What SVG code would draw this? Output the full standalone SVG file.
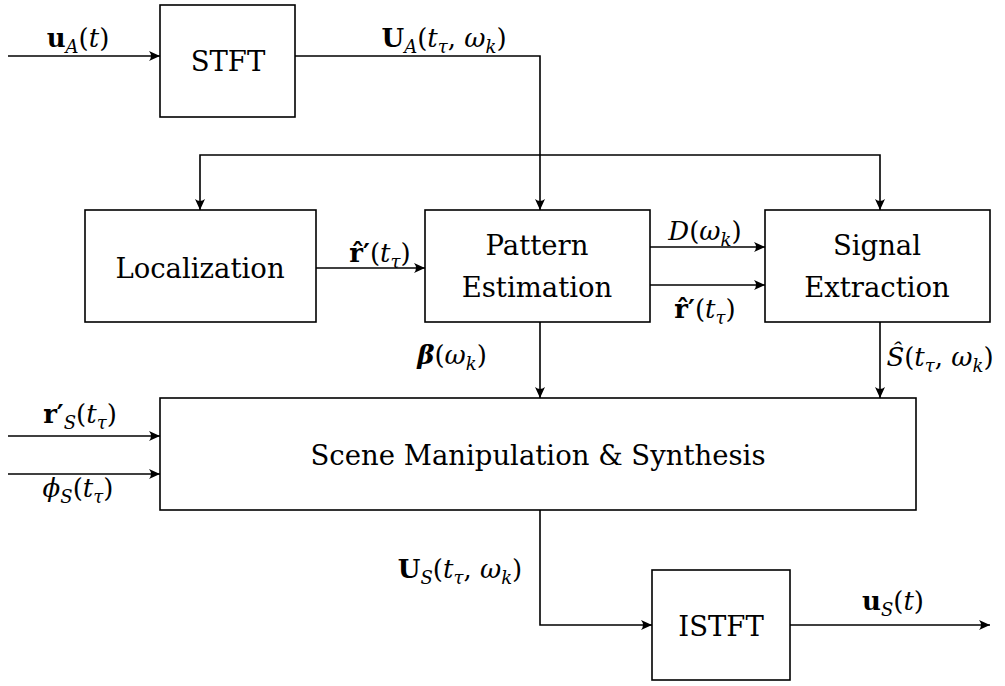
<svg xmlns="http://www.w3.org/2000/svg" width="1005" height="686" viewBox="0 0 1005 686">
<defs>
<marker id="arr" viewBox="-12 -6 14 12" markerWidth="14" markerHeight="12" refX="0" refY="0" orient="auto" markerUnits="userSpaceOnUse">
<path d="M0,0 L-11,-5 Q-7,0 -11,5 Z" fill="#000"/>
</marker>
<style>
.box{fill:#fff;stroke:#000;stroke-width:1.6}
.c{fill:none;stroke:#000;stroke-width:1.6;marker-end:url(#arr)}
.t{font-family:'DejaVu Serif',serif;font-size:27.5px;fill:#000;text-anchor:middle}
.m{font-family:'DejaVu Serif',serif;font-size:26px;fill:#000;text-anchor:middle}
.i{font-style:italic}
.b{font-weight:bold}
.s{font-size:18px;font-style:italic}
</style>
</defs>
<rect width="1005" height="686" fill="#fff"/>
<g id="connectors">
<path class="c" d="M8,56 H160"/>
<path class="c" d="M295,56 H540 V210"/>
<path class="c" d="M540,155 H200 V210"/>
<path class="c" d="M540,155 H880 V210"/>
<path class="c" d="M316,268 H425"/>
<path class="c" d="M650,247 H765"/>
<path class="c" d="M650,285 H765"/>
<path class="c" d="M540,322 V398"/>
<path class="c" d="M880,322 V398"/>
<path class="c" d="M8,436 H160"/>
<path class="c" d="M8,474 H160"/>
<path class="c" d="M540,510 V625 H652"/>
<path class="c" d="M790,625 H990"/>
</g>
<g id="stft"><rect class="box" x="160" y="5" width="135" height="112"/><text class="t" x="228" y="71">STFT</text></g>
<g id="localization"><rect class="box" x="85" y="210" width="231" height="112"/><text class="t" x="200" y="278">Localization</text></g>
<g id="pattern"><rect class="box" x="425" y="210" width="225" height="112"/><text class="t" x="537" y="255">Pattern</text><text class="t" x="537" y="297">Estimation</text></g>
<g id="signal"><rect class="box" x="765" y="210" width="225" height="112"/><text class="t" x="877" y="255">Signal</text><text class="t" x="877" y="297">Extraction</text></g>
<g id="scene"><rect class="box" x="160" y="398" width="756" height="112"/><text class="t" x="538" y="465">Scene Manipulation &amp; Synthesis</text></g>
<g id="istft"><rect class="box" x="652" y="570" width="138" height="110"/><text class="t" x="721" y="636">ISTFT</text></g>
<g id="labels">
<text class="m" x="78" y="47"><tspan class="b">u</tspan><tspan class="s" dy="6">A</tspan><tspan dy="-6">(</tspan><tspan class="i">t</tspan>)</text>
<text class="m" x="444" y="47"><tspan class="b">U</tspan><tspan class="s" dy="6">A</tspan><tspan dy="-6">(</tspan><tspan class="i">t</tspan><tspan class="s" dy="6">τ</tspan><tspan dy="-6">, </tspan><tspan class="i">ω</tspan><tspan class="s" dy="6">k</tspan><tspan dy="-6">)</tspan></text>
<text class="m" x="380" y="262"><tspan class="b">r̂′</tspan>(<tspan class="i">t</tspan><tspan class="s" dy="6">τ</tspan><tspan dy="-6">)</tspan></text>
<text class="m" x="705" y="240"><tspan class="i">D</tspan>(<tspan class="i">ω</tspan><tspan class="s" dy="6">k</tspan><tspan dy="-6">)</tspan></text>
<text class="m" x="705" y="318"><tspan class="b">r̂′</tspan>(<tspan class="i">t</tspan><tspan class="s" dy="6">τ</tspan><tspan dy="-6">)</tspan></text>
<text class="m" x="452" y="364"><tspan class="b i">β</tspan>(<tspan class="i">ω</tspan><tspan class="s" dy="6">k</tspan><tspan dy="-6">)</tspan></text>
<text class="m" x="940" y="366"><tspan class="i">Ŝ</tspan>(<tspan class="i">t</tspan><tspan class="s" dy="6">τ</tspan><tspan dy="-6">, </tspan><tspan class="i">ω</tspan><tspan class="s" dy="6">k</tspan><tspan dy="-6">)</tspan></text>
<text class="m" x="80" y="423"><tspan class="b">r′</tspan><tspan class="s" dy="6">S</tspan><tspan dy="-6">(</tspan><tspan class="i">t</tspan><tspan class="s" dy="6">τ</tspan><tspan dy="-6">)</tspan></text>
<text class="m" x="78" y="497"><tspan class="i">ϕ</tspan><tspan class="s" dy="6">S</tspan><tspan dy="-6">(</tspan><tspan class="i">t</tspan><tspan class="s" dy="6">τ</tspan><tspan dy="-6">)</tspan></text>
<text class="m" x="460" y="578"><tspan class="b">U</tspan><tspan class="s" dy="6">S</tspan><tspan dy="-6">(</tspan><tspan class="i">t</tspan><tspan class="s" dy="6">τ</tspan><tspan dy="-6">, </tspan><tspan class="i">ω</tspan><tspan class="s" dy="6">k</tspan><tspan dy="-6">)</tspan></text>
<text class="m" x="893" y="610"><tspan class="b">u</tspan><tspan class="s" dy="6">S</tspan><tspan dy="-6">(</tspan><tspan class="i">t</tspan>)</text>
</g>
</svg>
